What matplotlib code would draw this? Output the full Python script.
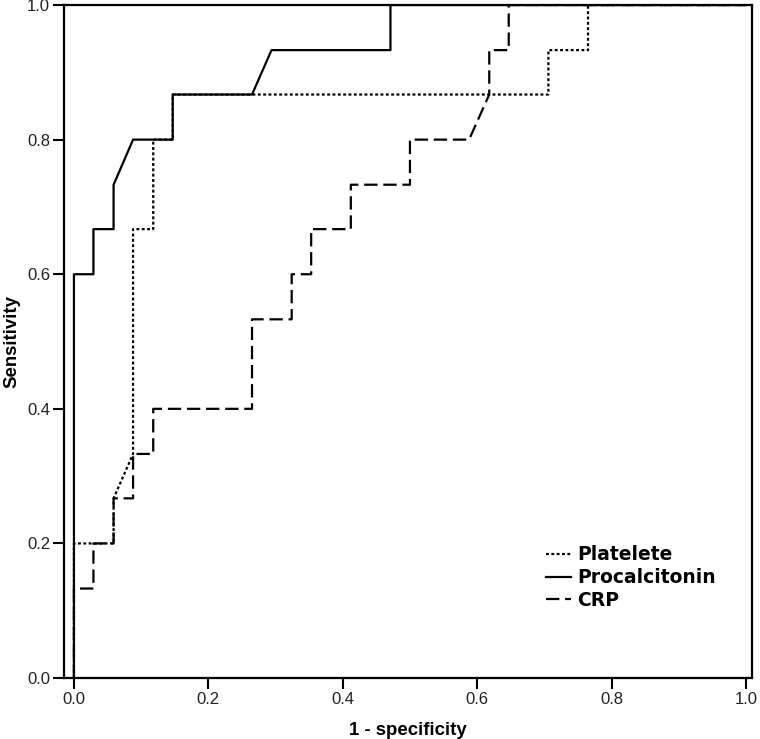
import matplotlib
matplotlib.use('Agg')
import matplotlib.pyplot as plt

plt.rcParams['font.family'] = ['Liberation Sans', 'DejaVu Sans']

# ROC curve points (1 - specificity, sensitivity)
platelete_fpr = [0, 0, 0.059, 0.059, 0.088, 0.088, 0.118, 0.118, 0.147, 0.147,
                 0.706, 0.706, 0.765, 0.765, 1.0]
platelete_tpr = [0, 0.2, 0.2, 0.267, 0.333, 0.667, 0.667, 0.8, 0.8, 0.867,
                 0.867, 0.933, 0.933, 1.0, 1.0]

procal_fpr = [0, 0, 0.029, 0.029, 0.059, 0.059, 0.088, 0.147, 0.147, 0.265,
              0.294, 0.471, 0.471, 1.0]
procal_tpr = [0, 0.6, 0.6, 0.667, 0.667, 0.733, 0.8, 0.8, 0.867, 0.867,
              0.933, 0.933, 1.0, 1.0]

crp_fpr = [0, 0, 0.029, 0.029, 0.059, 0.059, 0.088, 0.088, 0.118, 0.118,
           0.265, 0.265, 0.324, 0.324, 0.353, 0.353, 0.412, 0.412, 0.5, 0.5,
           0.588, 0.618, 0.618, 0.647, 0.647, 1.0]
crp_tpr = [0, 0.133, 0.133, 0.2, 0.2, 0.267, 0.267, 0.333, 0.333, 0.4,
           0.4, 0.533, 0.533, 0.6, 0.6, 0.667, 0.667, 0.733, 0.733, 0.8,
           0.8, 0.867, 0.933, 0.933, 1.0, 1.0]

ticks = [0.0, 0.2, 0.4, 0.6, 0.8, 1.0]
tick_labels = ["0.0", "0.2", "0.4", "0.6", "0.8", "1.0"]

fig = plt.figure(figsize=(7.6, 7.39), dpi=100)
ax = fig.add_axes([0.0842, 0.0825, 0.9053, 0.9107])

lw = 1.6
l_crp, = ax.plot(crp_fpr, crp_tpr, color='black', lw=lw,
                 linestyle=(0, (6, 2.6)), label='CRP')
l_plt, = ax.plot(platelete_fpr, platelete_tpr, color='black', lw=lw,
                 linestyle=(0, (1.3, 1.1)), label='Platelete')
l_pro, = ax.plot(procal_fpr, procal_tpr, color='black', lw=lw,
                 linestyle='-', label='Procalcitonin')

ax.set_xlim(-0.0148, 1.009)
ax.set_ylim(0, 1.0)

ax.set_xticks(ticks)
ax.set_xticklabels(tick_labels, fontsize=12, color='#222222')
ax.set_yticks(ticks)
ax.set_yticklabels(tick_labels, fontsize=12, color='#222222')
ax.tick_params(direction='out', length=8, width=1.5, pad=2)

for sp in ax.spines.values():
    sp.set_linewidth(1.6)

ax.set_xlabel('1 - specificity', fontweight='bold', fontsize=13.4,
              labelpad=11)
ax.set_ylabel('Sensitivity', fontweight='bold', fontsize=13.4, labelpad=5)

leg = ax.legend([l_plt, l_pro, l_crp], ['Platelete', 'Procalcitonin', 'CRP'],
                loc='upper left', bbox_to_anchor=(0.701, 0.197),
                frameon=False, handlelength=1.3, handletextpad=0.35,
                labelspacing=0.2, borderpad=0, borderaxespad=0,
                prop={'family': 'DejaVu Sans', 'weight': 'bold', 'size': 13.5})

plt.savefig('out.png', dpi=100)
plt.close()
